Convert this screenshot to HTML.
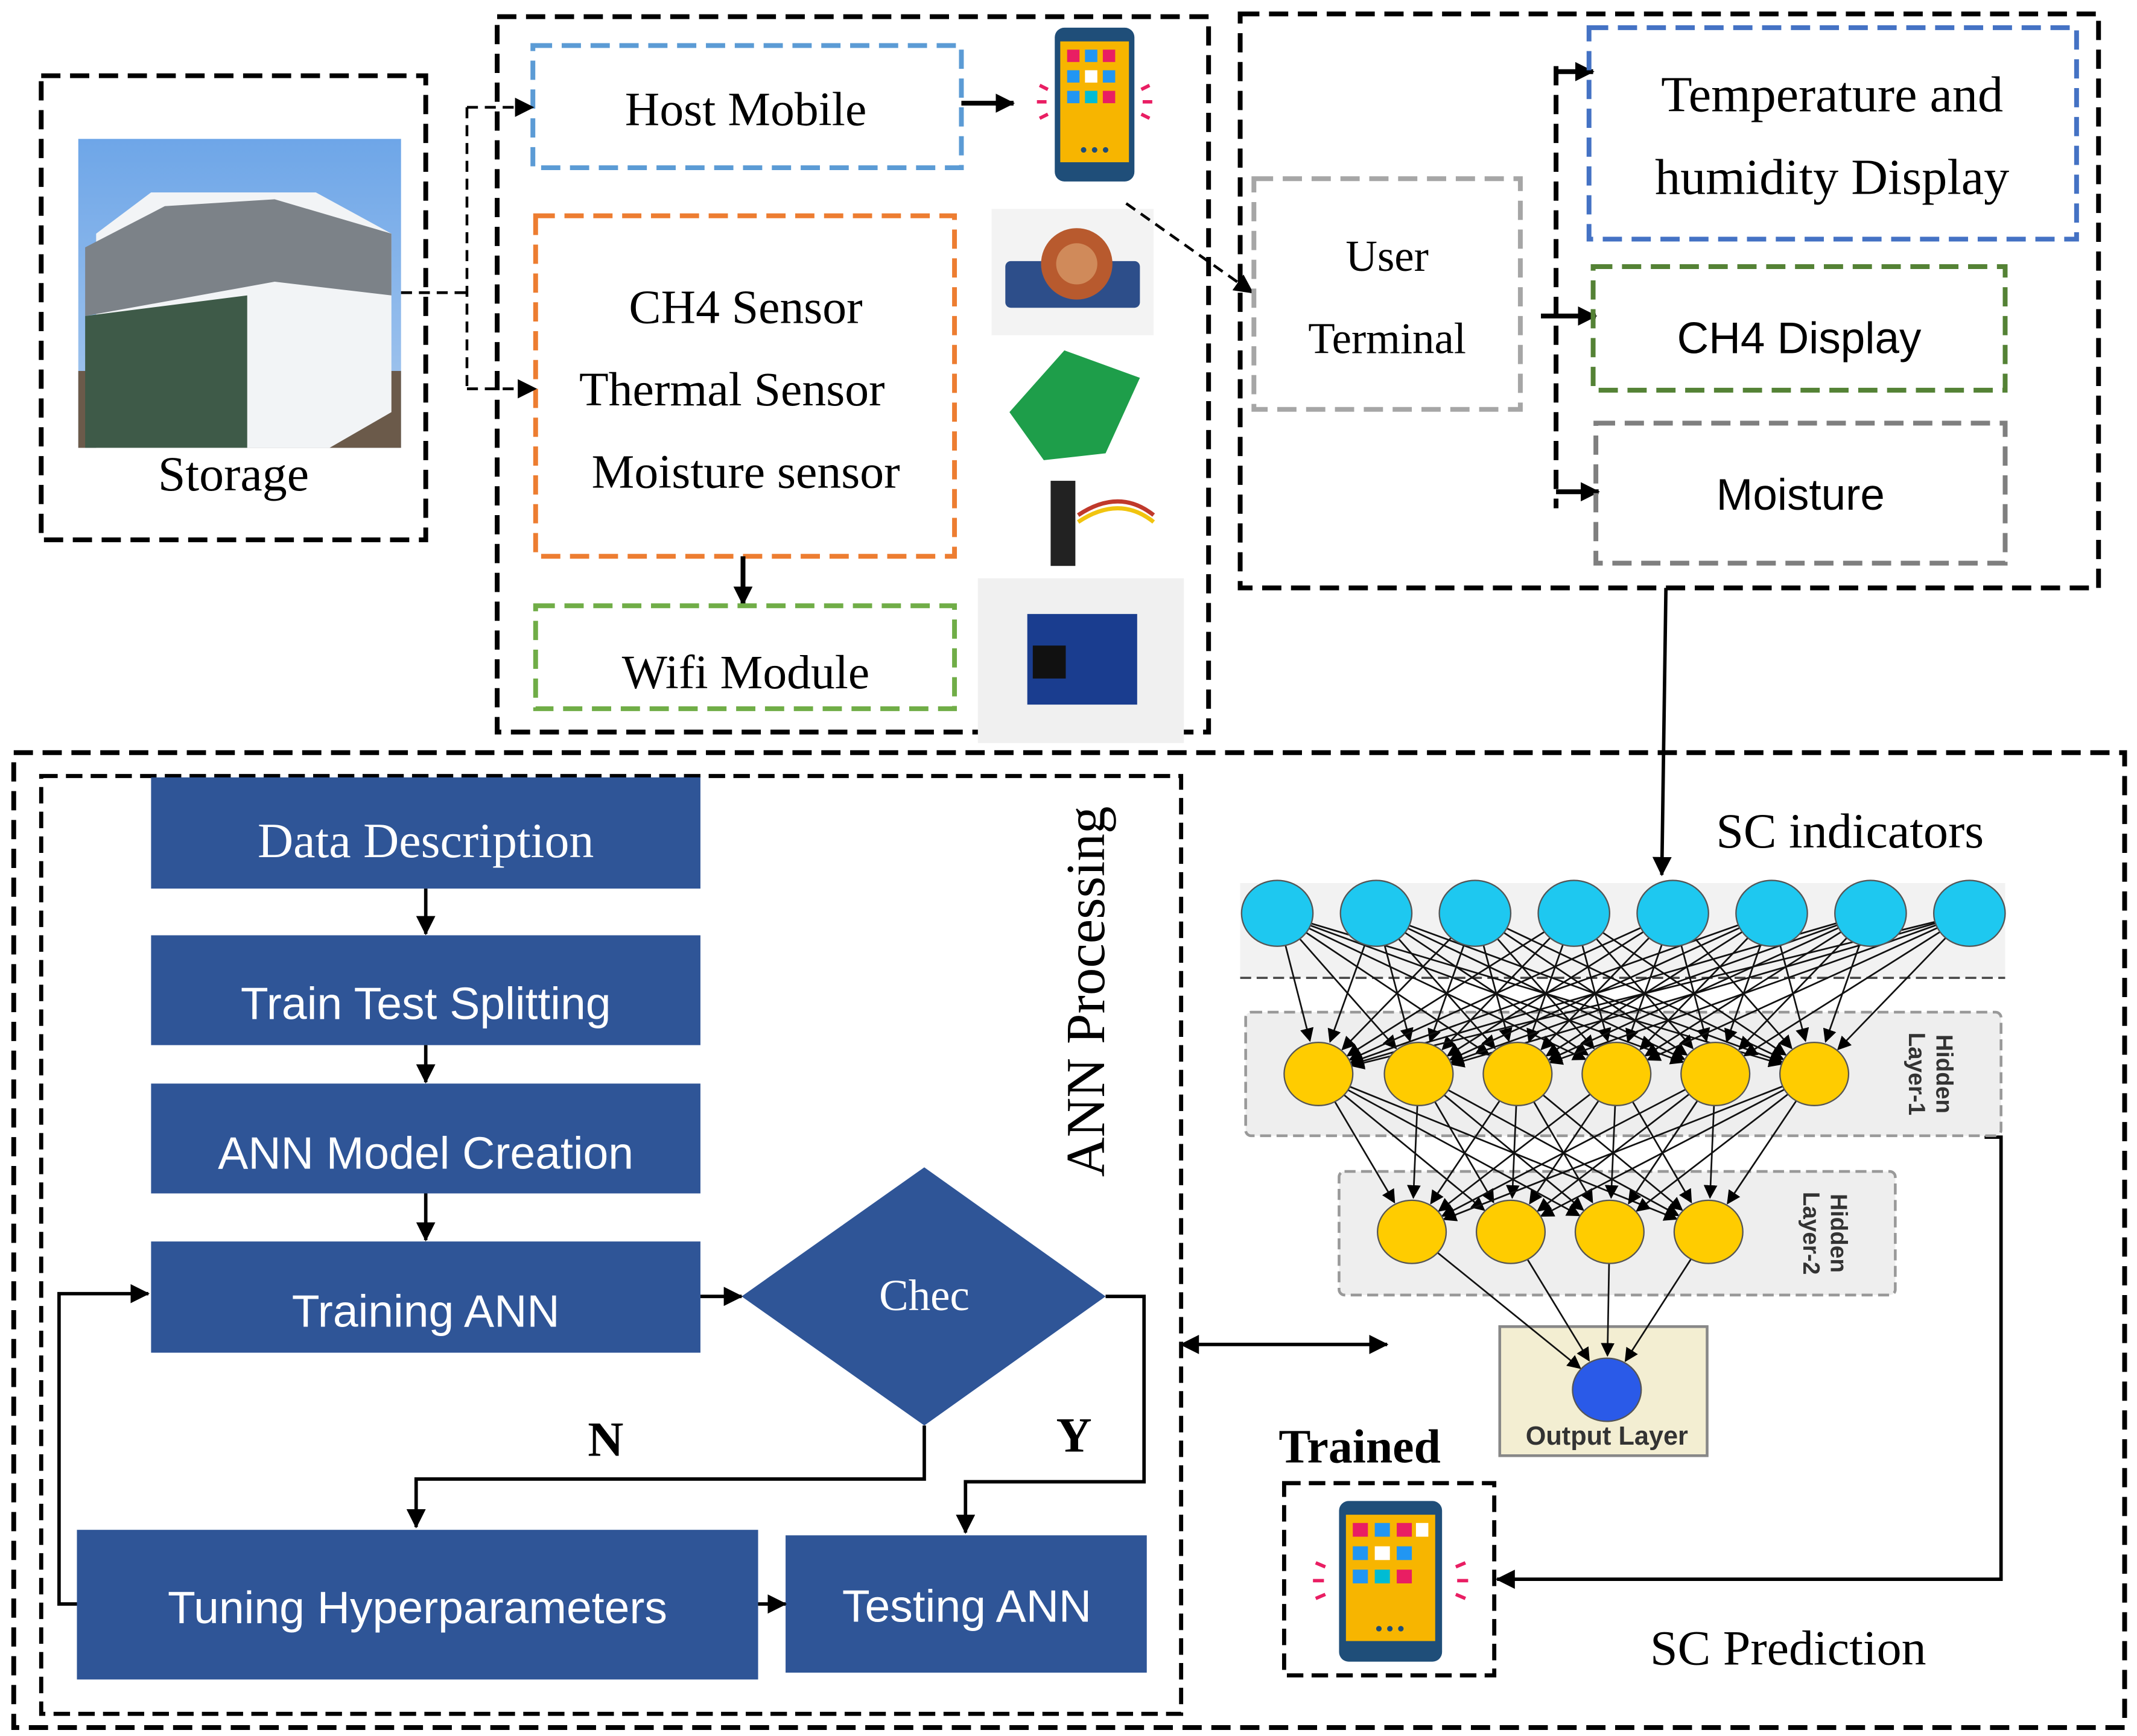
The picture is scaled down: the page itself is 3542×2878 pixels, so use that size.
<!DOCTYPE html>
<html><head><meta charset="utf-8">
<style>
html,body{margin:0;padding:0;background:#fff;}
svg{display:block;}
.serif{font-family:"Liberation Serif",serif;}
.sans{font-family:"Liberation Sans",sans-serif;}
</style></head>
<body>
<svg id="s" width="3542" height="2878" viewBox="0 0 1556 1264" xmlns="http://www.w3.org/2000/svg">
<defs>
<marker id="ah" markerWidth="10" markerHeight="10" refX="9" refY="5" orient="auto" markerUnits="userSpaceOnUse"><path d="M0,0 L10,5 L0,10 z" fill="#000"/></marker>
<marker id="ahs" markerWidth="14" markerHeight="14" refX="13" refY="7" orient="auto" markerUnits="userSpaceOnUse"><path d="M0,0 L14,7 L0,14 z" fill="#000"/></marker>
<marker id="ahb" markerWidth="14" markerHeight="14" refX="1" refY="7" orient="auto" markerUnits="userSpaceOnUse"><path d="M14,0 L0,7 L14,14 z" fill="#000"/></marker>
<linearGradient id="sky" x1="0" y1="0" x2="0" y2="1"><stop offset="0" stop-color="#6ea6e8"/><stop offset="1" stop-color="#a9c9ee"/></linearGradient>
</defs>
<rect width="1556" height="1264" fill="#fff"/>

<!-- Storage -->
<rect x="30" y="55" width="280" height="338" fill="none" stroke="#000" stroke-width="3.5" stroke-dasharray="14,7"/>
<rect x="57" y="101" width="235" height="225" fill="url(#sky)"/>
<rect x="57" y="270" width="235" height="56" fill="#6b5a4a"/>
<path d="M70,170 L110,140 L230,140 L285,170 L285,300 L240,326 L70,326 z" fill="#f2f4f6"/>
<path d="M62,180 L120,150 L200,145 L285,170 L285,215 L200,205 L62,230 z" fill="#7c8288"/>
<path d="M62,230 L180,215 L180,326 L62,326 z" fill="#3e5a48"/>
<text x="170" y="357" class="serif" font-size="36" text-anchor="middle">Storage</text>

<!-- top middle box -->
<rect x="362" y="12" width="518" height="521" fill="none" stroke="#000" stroke-width="3.5" stroke-dasharray="14,7"/>
<rect x="388" y="33" width="312" height="89" fill="none" stroke="#5b9bd5" stroke-width="3.5" stroke-dasharray="14,7"/>
<text x="543" y="91" class="serif" font-size="35" text-anchor="middle">Host Mobile</text>
<rect x="390" y="157" width="305" height="248" fill="none" stroke="#ed7d31" stroke-width="3.5" stroke-dasharray="14,7"/>
<text x="543" y="235" class="serif" font-size="35" text-anchor="middle">CH4 Sensor</text>
<text x="533" y="295" class="serif" font-size="35" text-anchor="middle">Thermal Sensor</text>
<text x="543" y="355" class="serif" font-size="35" text-anchor="middle">Moisture sensor</text>
<line x1="541" y1="405" x2="541" y2="440" stroke="#000" stroke-width="3.5" marker-end="url(#ahs)"/>
<rect x="390" y="441" width="305" height="75" fill="none" stroke="#70ad47" stroke-width="3.5" stroke-dasharray="14,7"/>
<text x="543" y="501" class="serif" font-size="35" text-anchor="middle">Wifi Module</text>

<!-- phone top -->
<g id="phone">
<rect x="768" y="20" width="58" height="112" rx="7" fill="#1f4e79"/>
<rect x="772" y="30" width="50" height="88" fill="#f7b500"/>
<rect x="777" y="36" width="9" height="9" fill="#e91e63"/><rect x="790" y="36" width="9" height="9" fill="#2196f3"/><rect x="803" y="36" width="9" height="9" fill="#e91e63"/>
<rect x="777" y="51" width="9" height="9" fill="#2196f3"/><rect x="790" y="51" width="9" height="9" fill="#fff"/><rect x="803" y="51" width="9" height="9" fill="#2196f3"/>
<rect x="777" y="66" width="9" height="9" fill="#2196f3"/><rect x="790" y="66" width="9" height="9" fill="#00bcd4"/><rect x="803" y="66" width="9" height="9" fill="#e91e63"/>
<circle cx="789" cy="109" r="2" fill="#1f4e79"/><circle cx="797" cy="109" r="2" fill="#1f4e79"/><circle cx="805" cy="109" r="2" fill="#1f4e79"/>
<path d="M757,62 l6,3 M755,74 h7 M757,86 l6,-3 M837,62 l-6,3 M839,74 h-7 M837,86 l-6,-3" stroke="#e91e63" stroke-width="2.5"/>
</g>
<line x1="700" y1="75" x2="738" y2="75" stroke="#000" stroke-width="3.5" marker-end="url(#ahs)"/>

<!-- sensor images -->
<rect x="722" y="152" width="118" height="92" fill="#f3f3f3"/>
<rect x="732" y="190" width="98" height="34" rx="4" fill="#2d4e8a"/>
<circle cx="784" cy="192" r="26" fill="#b85a2e"/><circle cx="784" cy="192" r="15" fill="#d08a5a"/>
<rect x="724" y="250" width="112" height="90" fill="#fff"/>
<path d="M735,300 L775,255 L830,275 L805,330 L760,335 z" fill="#1e9e4a"/>
<rect x="762" y="345" width="78" height="70" fill="#fff"/>
<rect x="765" y="350" width="18" height="62" fill="#222"/>
<path d="M785,375 q30,-20 55,0" stroke="#c0392b" stroke-width="3" fill="none"/>
<path d="M785,380 q30,-20 55,0" stroke="#f1c40f" stroke-width="3" fill="none"/>
<rect x="712" y="421" width="150" height="120" fill="#f0f0f0"/>
<rect x="748" y="447" width="80" height="66" fill="#1a3d8f"/>
<rect x="752" y="470" width="24" height="24" fill="#111"/>

<!-- storage to sensors dashed -->
<path d="M292,213 H340 M340,78 V283" stroke="#000" stroke-width="2" stroke-dasharray="8,5" fill="none"/>
<line x1="340" y1="78" x2="388" y2="78" stroke="#000" stroke-width="2" stroke-dasharray="8,5" marker-end="url(#ahs)"/>
<line x1="340" y1="283" x2="390" y2="283" stroke="#000" stroke-width="2" stroke-dasharray="8,5" marker-end="url(#ahs)"/>
<line x1="820" y1="148" x2="912" y2="213" stroke="#000" stroke-width="2" stroke-dasharray="8,5" marker-end="url(#ahs)"/>

<!-- right top box -->
<rect x="903" y="10" width="625" height="418" fill="none" stroke="#000" stroke-width="3.5" stroke-dasharray="14,7"/>
<rect x="913" y="130" width="194" height="168" fill="none" stroke="#a6a6a6" stroke-width="3.5" stroke-dasharray="14,7"/>
<text x="1010" y="197" class="serif" font-size="32" text-anchor="middle">User</text>
<text x="1010" y="257" class="serif" font-size="32" text-anchor="middle">Terminal</text>
<line x1="1133" y1="48" x2="1133" y2="370" stroke="#000" stroke-width="3.5" stroke-dasharray="14,7"/>
<line x1="1133" y1="52" x2="1160" y2="52" stroke="#000" stroke-width="3.5" marker-end="url(#ahs)"/>
<line x1="1122" y1="230" x2="1162" y2="230" stroke="#000" stroke-width="3.5" marker-end="url(#ahs)"/>
<line x1="1133" y1="358" x2="1164" y2="358" stroke="#000" stroke-width="3.5" marker-end="url(#ahs)"/>
<rect x="1157" y="20" width="355" height="154" fill="none" stroke="#4472c4" stroke-width="3.5" stroke-dasharray="14,7"/>
<text x="1334" y="81" class="serif" font-size="37" text-anchor="middle">Temperature and</text>
<text x="1334" y="141" class="serif" font-size="37" text-anchor="middle">humidity Display</text>
<rect x="1160" y="194" width="300" height="90" fill="none" stroke="#548235" stroke-width="3.5" stroke-dasharray="14,7"/>
<text x="1310" y="257" class="sans" font-size="32" text-anchor="middle">CH4 Display</text>
<rect x="1162" y="308" width="298" height="102" fill="none" stroke="#7f7f7f" stroke-width="3.5" stroke-dasharray="14,7"/>
<text x="1311" y="371" class="sans" font-size="32" text-anchor="middle">Moisture</text>
<path d="M1213,428 L1210,637" stroke="#000" stroke-width="2.5" marker-end="url(#ahs)"/>

<!-- bottom big box -->
<rect x="10" y="548" width="1537" height="710" fill="none" stroke="#000" stroke-width="3.5" stroke-dasharray="14,7"/>
<rect x="30" y="565" width="830" height="683" fill="none" stroke="#000" stroke-width="3" stroke-dasharray="12,6"/>

<g fill="#2f5597">
<rect x="110" y="566" width="400" height="81"/>
<rect x="110" y="681" width="400" height="80"/>
<rect x="110" y="789" width="400" height="80"/>
<rect x="110" y="904" width="400" height="81"/>
<path d="M673,850 L805,944 L673,1038 L540,944 z"/>
<rect x="56" y="1114" width="496" height="109"/>
<rect x="572" y="1118" width="263" height="100"/>
</g>
<g fill="#fff" text-anchor="middle">
<text x="310" y="624" class="serif" font-size="36">Data Description</text>
<text x="310" y="742" class="sans" font-size="33">Train Test Splitting</text>
<text x="310" y="851" class="sans" font-size="33">ANN Model Creation</text>
<text x="310" y="966" class="sans" font-size="33">Training ANN</text>
<text x="673" y="954" class="serif" font-size="32">Chec</text>
<text x="304" y="1182" class="sans" font-size="33">Tuning Hyperparameters</text>
<text x="704" y="1181" class="sans" font-size="33">Testing ANN</text>
</g>
<g stroke="#000" stroke-width="2.5" fill="none">
<line x1="310" y1="647" x2="310" y2="680" marker-end="url(#ahs)"/>
<line x1="310" y1="761" x2="310" y2="788" marker-end="url(#ahs)"/>
<line x1="310" y1="869" x2="310" y2="903" marker-end="url(#ahs)"/>
<line x1="510" y1="944" x2="540" y2="944" marker-end="url(#ahs)"/>
<path d="M673,1038 V1077 H303 V1112" marker-end="url(#ahs)"/>
<path d="M805,944 H833 V1079 H703 V1116" marker-end="url(#ahs)"/>
<line x1="552" y1="1168" x2="572" y2="1168" marker-end="url(#ahs)"/>
<path d="M56,1168 H43 V942 H108" marker-end="url(#ahs)"/>
<line x1="860" y1="979" x2="1010" y2="979" marker-start="url(#ahb)" marker-end="url(#ahs)"/>
<path d="M1445,828 H1457 V1150 H1090" marker-end="url(#ahs)"/>
</g>
<text x="441" y="1060" class="serif" font-size="36" font-weight="bold" text-anchor="middle">N</text>
<text x="782" y="1057" class="serif" font-size="36" font-weight="bold" text-anchor="middle">Y</text>
<text transform="translate(804,722) rotate(-90)" class="serif" font-size="40" text-anchor="middle">ANN Processing</text>

<!-- neural net -->
<rect x="903" y="643" width="557" height="69" fill="#f2f2f2"/>
<line x1="903" y1="712" x2="1460" y2="712" stroke="#444" stroke-width="1.5" stroke-dasharray="8,4"/>
<rect x="907" y="737" width="550" height="90" fill="#eeeeee" stroke="#999" stroke-width="2" stroke-dasharray="8,4" rx="4"/>
<rect x="975" y="853" width="405" height="90" fill="#eeeeee" stroke="#999" stroke-width="2" stroke-dasharray="8,4" rx="4"/>
<rect x="1092" y="966" width="151" height="94" fill="#f3eed2" stroke="#888" stroke-width="2"/>
<text x="1170" y="1052" class="sans" font-size="19" font-weight="bold" fill="#333" text-anchor="middle">Output Layer</text>
<text transform="translate(1410,782) rotate(90)" class="sans" font-size="17" font-weight="bold" fill="#333" text-anchor="middle">Hidden</text>
<text transform="translate(1390,782) rotate(90)" class="sans" font-size="17" font-weight="bold" fill="#333" text-anchor="middle">Layer-1</text>
<text transform="translate(1333,898) rotate(90)" class="sans" font-size="17" font-weight="bold" fill="#333" text-anchor="middle">Hidden</text>
<text transform="translate(1313,898) rotate(90)" class="sans" font-size="17" font-weight="bold" fill="#333" text-anchor="middle">Layer-2</text>
<g id="edges" stroke="#111" stroke-width="1.2"></g>
<g id="nodes"></g>
<text x="1347" y="617" class="serif" font-size="36" text-anchor="middle">SC indicators</text>
<text x="1302" y="1212" class="serif" font-size="36" text-anchor="middle">SC Prediction</text>
<text x="990" y="1065" class="serif" font-size="35" font-weight="bold" text-anchor="middle">Trained</text>

<!-- bottom phone -->
<rect x="935" y="1080" width="153" height="140" fill="none" stroke="#000" stroke-width="3" stroke-dasharray="12,6"/>
<rect x="975" y="1093" width="75" height="117" rx="7" fill="#1f4e79"/>
<rect x="980" y="1103" width="65" height="92" fill="#f7b500"/>
<rect x="985" y="1109" width="11" height="10" fill="#e91e63"/><rect x="1001" y="1109" width="11" height="10" fill="#2196f3"/><rect x="1017" y="1109" width="11" height="10" fill="#e91e63"/><rect x="1031" y="1109" width="9" height="10" fill="#fff"/>
<rect x="985" y="1126" width="11" height="10" fill="#2196f3"/><rect x="1001" y="1126" width="11" height="10" fill="#fff"/><rect x="1017" y="1126" width="11" height="10" fill="#2196f3"/>
<rect x="985" y="1143" width="11" height="10" fill="#2196f3"/><rect x="1001" y="1143" width="11" height="10" fill="#00bcd4"/><rect x="1017" y="1143" width="11" height="10" fill="#e91e63"/>
<circle cx="1004" cy="1186" r="2" fill="#1f4e79"/><circle cx="1012" cy="1186" r="2" fill="#1f4e79"/><circle cx="1020" cy="1186" r="2" fill="#1f4e79"/>
<path d="M958,1138 l7,3 M956,1151 h8 M958,1164 l7,-3 M1067,1138 l-7,3 M1069,1151 h-8 M1067,1164 l-7,-3" stroke="#e91e63" stroke-width="2.5"/>
</svg>
<script>
(function(){
var NS="http://www.w3.org/2000/svg";
var L0=[930,1002,1074,1146,1218,1290,1362,1434].map(function(x){return [x,665];});
var L1=[960,1033,1105,1177,1249,1321].map(function(x){return [x,782];});
var L2=[1028,1100,1172,1244].map(function(x){return [x,897];});
var L3=[[1170,1012]];
var e=document.getElementById("edges"),n=document.getElementById("nodes");
function conn(A,B){A.forEach(function(a){B.forEach(function(b){var l=document.createElementNS(NS,"line");
var dx=b[0]-a[0],dy=b[1]-a[1],d=Math.sqrt(dx*dx+dy*dy);
l.setAttribute("x1",a[0]);l.setAttribute("y1",a[1]);l.setAttribute("x2",b[0]-dx/d*25);l.setAttribute("y2",b[1]-dy/d*25);
l.setAttribute("marker-end","url(#ah)");e.appendChild(l);});});}
conn(L0,L1);conn(L1,L2);conn(L2,L3);
function draw(L,fill,r){L.forEach(function(p){var c=document.createElementNS(NS,"ellipse");c.setAttribute("cx",p[0]);c.setAttribute("cy",p[1]);c.setAttribute("rx",r+2);c.setAttribute("ry",r);c.setAttribute("fill",fill);c.setAttribute("stroke","#555");c.setAttribute("stroke-width","1");n.appendChild(c);});}
draw(L0,"#1ec8f0",24);draw(L1,"#ffcc00",23);draw(L2,"#ffcc00",23);draw(L3,"#2a5ae8",23);
})();
</script>
</body></html>
